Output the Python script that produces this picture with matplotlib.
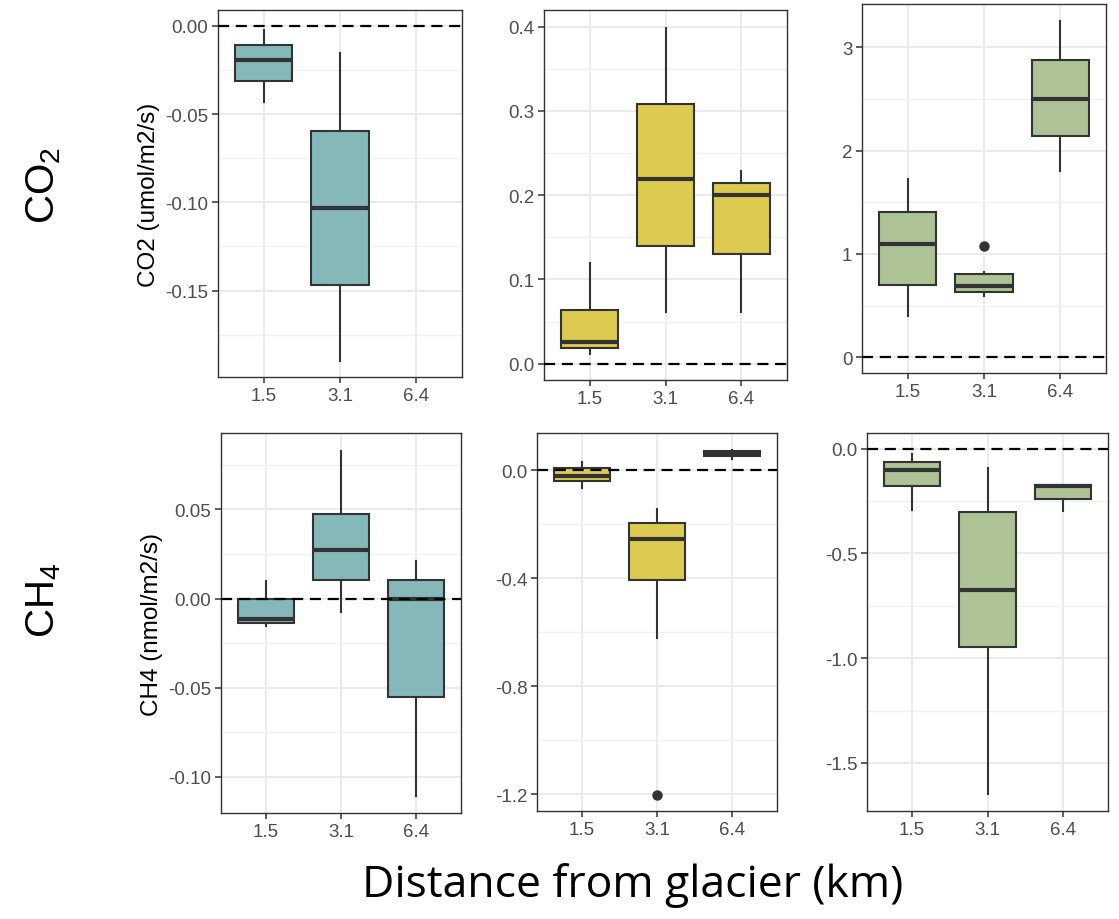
import matplotlib
matplotlib.use("Agg")
import matplotlib.pyplot as plt
import numpy as np

plt.rcParams['font.family'] = ['Liberation Sans', 'DejaVu Sans']
plt.rcParams['mathtext.fontset'] = 'custom'
plt.rcParams['mathtext.rm'] = 'Liberation Sans'

W, H = 1119, 920

categories = ['1.5', '3.1', '6.4']

# Five-number summaries per panel: (whislo, q1, median, q3, whishi); None = no data
co2_p1 = [(-0.0434, -0.0313, -0.0194, -0.0108, -0.0025),
          (-0.190, -0.1468, -0.1032, -0.0594, -0.0151),
          None]
co2_p2 = [(0.0119, 0.0186, 0.0257, 0.0637, 0.1199),
          (0.0613, 0.1397, 0.2196, 0.3086, 0.398),
          (0.0613, 0.1306, 0.2006, 0.2148, 0.2287)]
co2_p3 = [(0.403, 0.703, 1.097, 1.41, 1.726),
          (0.597, 0.635, 0.687, 0.803, 0.829),
          (1.80, 2.145, 2.497, 2.874, 3.255)]
ch4_p1 = [(-0.0152, -0.0137, -0.0117, -0.0004, 0.0096),
          (-0.0077, 0.0105, 0.0273, 0.0472, 0.0826),
          (-0.1107, -0.0554, -0.0002, 0.0103, 0.0208)]
ch4_p2 = [(-0.065, -0.0395, -0.020, 0.0086, 0.031),
          (-0.621, -0.406, -0.256, -0.194, -0.144),
          (0.041, 0.052, 0.063, 0.073, 0.074)]
ch4_p3 = [(-0.292, -0.180, -0.104, -0.064, -0.027),
          (-1.648, -0.947, -0.673, -0.303, -0.092),
          (-0.295, -0.239, -0.180, -0.172, -0.172)]

outliers_co2_p3 = [[], [1.081], []]
outliers_ch4_p2 = [[], [-1.201], []]

teal = '#84B8B9'
yellow = '#DCCB50'
green = '#ADC396'

panels = [
    dict(data=co2_p1, fl=[[], [], []], color=teal, rect=(218, 462, 11, 378),
         ylim=(-0.199, 0.009), ticks=[0.0, -0.05, -0.10, -0.15],
         labels=['0.00', '-0.05', '-0.10', '-0.15'], minor=[-0.025, -0.075, -0.125, -0.175],
         ylabel='CO2 (umol/m2/s)'),
    dict(data=co2_p2, fl=[[], [], []], color=yellow, rect=(544, 787, 11, 381),
         ylim=(-0.0194, 0.4198), ticks=[0.0, 0.1, 0.2, 0.3, 0.4],
         labels=['0.0', '0.1', '0.2', '0.3', '0.4'], minor=[0.05, 0.15, 0.25, 0.35],
         ylabel=None),
    dict(data=co2_p3, fl=outliers_co2_p3, color=green, rect=(862, 1106, 5, 374),
         ylim=(-0.152, 3.419), ticks=[0, 1, 2, 3],
         labels=['0', '1', '2', '3'], minor=[0.5, 1.5, 2.5],
         ylabel=None),
    dict(data=ch4_p1, fl=[[], [], []], color=teal, rect=(221, 461, 434, 814),
         ylim=(-0.1204, 0.0929), ticks=[0.05, 0.0, -0.05, -0.10],
         labels=['0.05', '0.00', '-0.05', '-0.10'], minor=[0.075, 0.025, -0.025, -0.075],
         ylabel='CH4 (nmol/m2/s)'),
    dict(data=ch4_p2, fl=outliers_ch4_p2, color=yellow, rect=(537, 777, 434, 812),
         ylim=(-1.262, 0.138), ticks=[0.0, -0.4, -0.8, -1.2],
         labels=['0.0', '-0.4', '-0.8', '-1.2'], minor=[-0.2, -0.6, -1.0],
         ylabel=None),
    dict(data=ch4_p3, fl=[[], [], []], color=green, rect=(867, 1108, 434, 812),
         ylim=(-1.7295, 0.075), ticks=[0.0, -0.5, -1.0, -1.5],
         labels=['0.0', '-0.5', '-1.0', '-1.5'], minor=[-0.25, -0.75, -1.25],
         ylabel=None),
]

fig = plt.figure(figsize=(W / 100, H / 100), dpi=100)

edge = '#333333'
for p in panels:
    l, r, t, b = p['rect']
    ax = fig.add_axes([l / W, 1 - b / H, (r - l) / W, (b - t) / H])
    stats = []
    positions = []
    for i, d in enumerate(p['data']):
        if d is None:
            continue
        wl, q1, med, q3, wh = d
        stats.append(dict(whislo=wl, q1=q1, med=med, q3=q3, whishi=wh,
                          fliers=np.array(p['fl'][i])))
        positions.append(i + 1)
    ax.set_axisbelow(True)
    ax.bxp(stats, positions=positions, widths=0.75, patch_artist=True,
           showcaps=False, manage_ticks=False,
           boxprops=dict(facecolor=p['color'], edgecolor=edge, linewidth=1.5),
           medianprops=dict(color=edge, linewidth=3.0, solid_capstyle='butt'),
           whiskerprops=dict(color=edge, linewidth=1.5),
           flierprops=dict(marker='o', markerfacecolor=edge, markeredgecolor=edge,
                           markersize=6.5))
    ax.axhline(0, color='black', linestyle=(0, (5, 3)), linewidth=1.6, zorder=5)
    ax.set_xlim(0.4, 3.6)
    ax.set_ylim(*p['ylim'])
    ax.set_xticks([1, 2, 3])
    ax.set_xticklabels(categories)
    ax.set_yticks(p['ticks'])
    ax.set_yticklabels(p['labels'])
    ax.set_yticks(p['minor'], minor=True)
    ax.set_xticks([], minor=True)
    ax.grid(True, which='major', color='#EBEBEB', linewidth=1.4)
    ax.grid(True, which='minor', axis='y', color='#F0F0F0', linewidth=0.9)
    ax.tick_params(axis='both', which='major', labelsize=13.5, labelcolor='#4D4D4D',
                   color='#333333', length=4, width=1.1, pad=3)
    ax.tick_params(axis='y', which='minor', length=0)
    for s in ax.spines.values():
        s.set_color('#333333')
        s.set_linewidth(1.0)
    if p['ylabel']:
        ax.set_ylabel(p['ylabel'], fontsize=17.5, color='black', labelpad=4)

fig.text(44 / W, 1 - 185 / H, 'CO$_\\mathregular{2}$', rotation=90, fontsize=29,
         ha='center', va='center')
fig.text(44 / W, 1 - 600 / H, 'CH$_\\mathregular{4}$', rotation=90, fontsize=29,
         ha='center', va='center')
fig.text(633 / W, 1 - 886 / H, 'Distance from glacier (km)', fontsize=32,
         ha='center', va='center', family=['Open Sans', 'DejaVu Sans'])

fig.savefig('out.png', dpi=100, facecolor='white')
